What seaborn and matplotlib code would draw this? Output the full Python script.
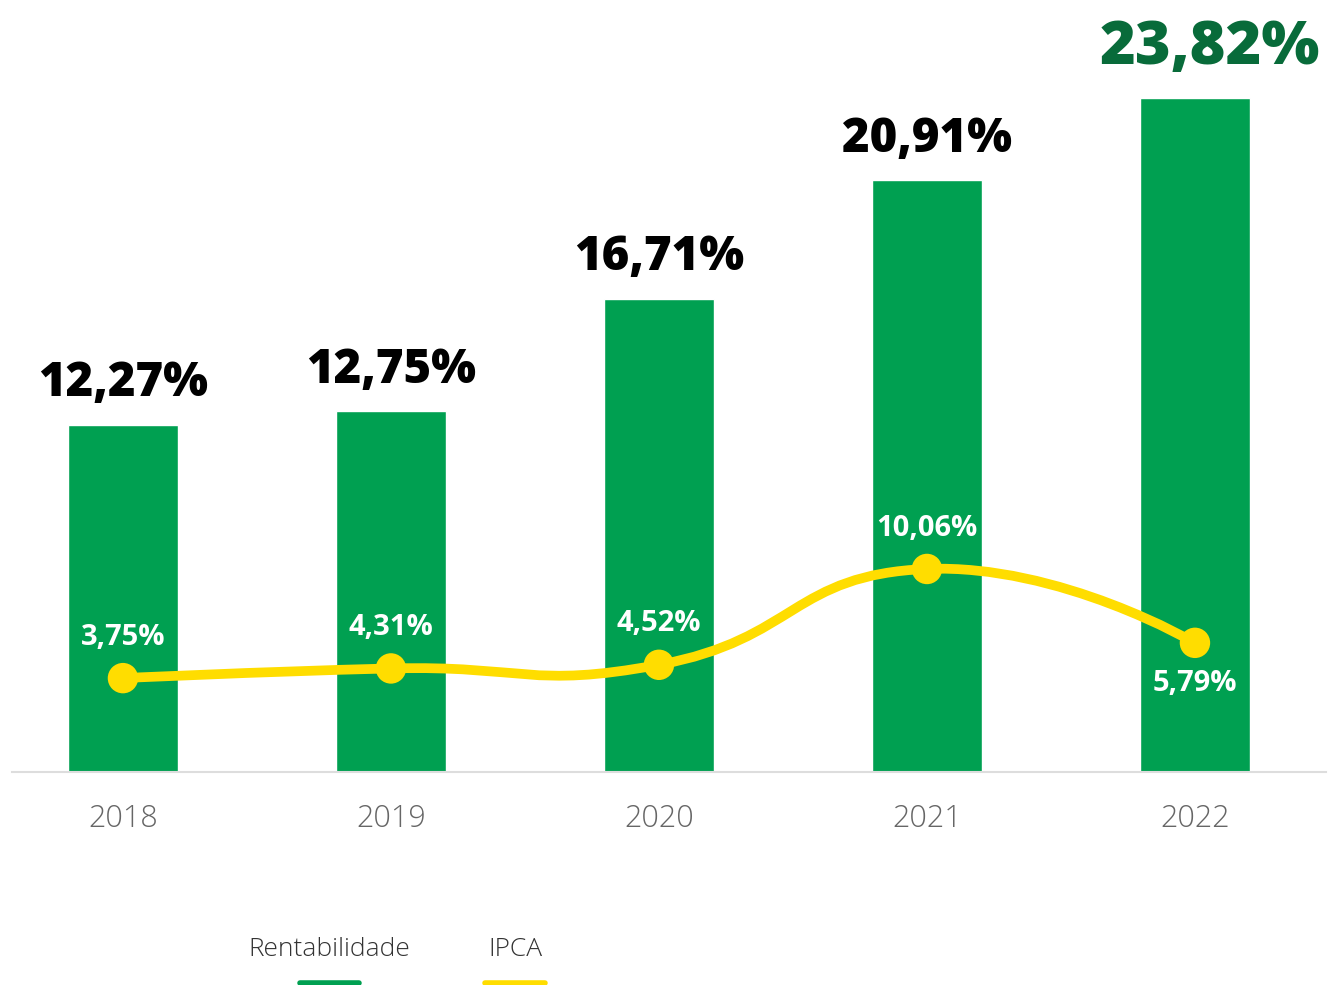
import numpy as np
import matplotlib
matplotlib.use("Agg")
import matplotlib.pyplot as plt
from matplotlib.path import Path
from matplotlib.patches import PathPatch
from matplotlib.lines import Line2D
import seaborn as sns
import pandas as pd

years = ['2018', '2019', '2020', '2021', '2022']
rentabilidade = [12.27, 12.75, 16.71, 20.91, 23.82]
ipca = [3.75, 4.31, 4.52, 10.06, 5.79]

GREEN = '#00A051'
DARK_GREEN = '#086B3A'
YELLOW = '#FFDD00'

def fmt(v):
    return f"{v:.2f}".replace('.', ',') + '%'

sns.set_style("white")
plt.rcParams['font.family'] = ['Open Sans', 'DejaVu Sans']

fig = plt.figure(figsize=(13.28, 9.85), dpi=100)
ax = fig.add_axes([12 / 1328, (985 - 772) / 985, 1314 / 1328, 752 / 985])

df = pd.DataFrame({'ano': years, 'rent': rentabilidade, 'ipca': ipca})
sns.barplot(data=df, x='ano', y='rent', color=GREEN, saturation=1, width=0.41, ax=ax)

ax.set_xlim(-0.414, 4.489)
ax.set_ylim(0, 752 / 28.3)

for sp in ['top', 'left', 'right']:
    ax.spines[sp].set_visible(False)
ax.spines['bottom'].set_color('#dddddd')
ax.spines['bottom'].set_linewidth(1.5)
ax.set_yticks([])
ax.set_xlabel('')
ax.set_ylabel('')
ax.tick_params(axis='x', length=0, pad=22, labelsize=22, labelcolor='#666666')
for lab in ax.get_xticklabels():
    lab.set_fontweight('light')

# bar value labels
for i, v in enumerate(rentabilidade):
    last = i == len(rentabilidade) - 1
    ax.annotate(fmt(v), (i, v), xytext=(11 if last else 0, 14 if last else 12), textcoords='offset points',
                ha='center', va='bottom', fontsize=44 if last else 34, fontweight='heavy',
                color=DARK_GREEN if last else 'black')

# IPCA on secondary axis
ax2 = ax.twinx()
lo = -29 / 17.3
ax2.set_ylim(lo, lo + 752 / 17.3)
ax2.set_yticks([])
for sp in ax2.spines.values():
    sp.set_visible(False)

# smooth bezier path through points (pixel-aspect aware)
xs = np.arange(len(ipca), dtype=float)
ys = np.array(ipca)
k = 17.3 / 268.0  # y-unit to x-unit pixel ratio
smooth = 0.5
verts = [(xs[0], ys[0])]
codes = [Path.MOVETO]
def ctrl(i):
    if i == 0 or i == len(xs) - 1:
        return (xs[i], ys[i]), (xs[i], ys[i])
    vx = (xs[i + 1] - xs[i - 1]) * smooth
    vy = (ys[i + 1] - ys[i - 1]) * smooth
    d0 = np.hypot(xs[i] - xs[i - 1], (ys[i] - ys[i - 1]) * k)
    d1 = np.hypot(xs[i + 1] - xs[i], (ys[i + 1] - ys[i]) * k)
    s = d0 + d1
    return (xs[i] - vx * d0 / s, ys[i] - vy * d0 / s), (xs[i] + vx * d1 / s, ys[i] + vy * d1 / s)
for i in range(len(xs) - 1):
    _, c1 = ctrl(i)
    c2, _ = ctrl(i + 1)
    verts += [c1, c2, (xs[i + 1], ys[i + 1])]
    codes += [Path.CURVE4] * 3
ax2.add_patch(PathPatch(Path(verts, codes), fill=False, edgecolor=YELLOW, lw=7, capstyle='round', zorder=3))

sns.scatterplot(x=xs, y=ys, ax=ax2, color=YELLOW, s=480, edgecolor='none', zorder=4, legend=False)

for i, v in enumerate(ipca):
    below = i == len(ipca) - 1
    ax2.annotate(fmt(v), (i, v), xytext=(0, -19 if below else 19), textcoords='offset points',
                 ha='center', va='top' if below else 'bottom', fontsize=21, fontweight='bold',
                 color='white', zorder=5)

# legend
fig.text(329 / 1328, 1 - 949 / 985, 'Rentabilidade', ha='center', va='center',
         fontsize=19, fontweight='light', color='#333333')
fig.text(515 / 1328, 1 - 949 / 985, 'IPCA', ha='center', va='center',
         fontsize=19, fontweight='light', color='#333333')
fig.add_artist(Line2D([300 / 1328, 359 / 1328], [1 - 983 / 985] * 2, color=GREEN, lw=4, transform=fig.transFigure))
fig.add_artist(Line2D([485 / 1328, 545 / 1328], [1 - 983 / 985] * 2, color=YELLOW, lw=4, transform=fig.transFigure))

fig.savefig('out.png', dpi=100)
